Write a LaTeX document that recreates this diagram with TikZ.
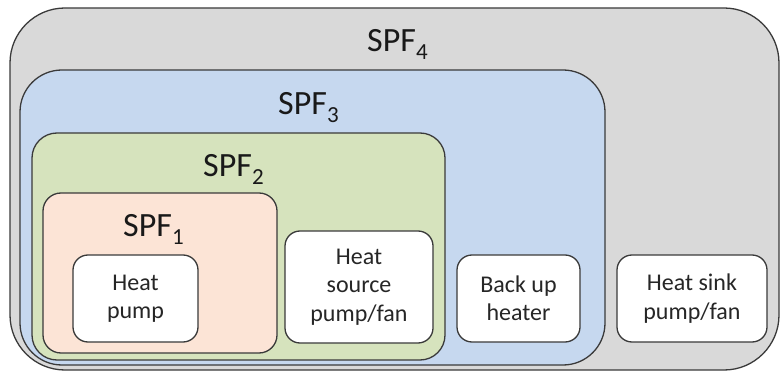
\documentclass[tikz,border=0pt]{standalone}
\usepackage{fontspec}
\setmainfont{Carlito}
\definecolor{grayfill}{HTML}{D9D9D9}
\definecolor{bluefill}{HTML}{C6D8EF}
\definecolor{greenfill}{HTML}{D6E3BD}
\definecolor{orangefill}{HTML}{FCE4D6}
\definecolor{edge}{HTML}{3A3A3A}
\tikzset{
  region/.style={draw=edge, line width=1.3pt, inner sep=0pt},
  unit/.style={draw=edge, line width=1.3pt, fill=white, rounded corners=15pt, inner sep=0pt,
    align=center, font=\fontsize{24}{28.5}\selectfont, text=black!85},
  spf/.style={anchor=base west, inner sep=0pt, font=\fontsize{34}{34}\selectfont, text=black!90},
}
\newcommand{\spfsub}[1]{SPF\raisebox{-8pt}{\fontsize{23}{23}\selectfont #1}}
\begin{document}
\begin{tikzpicture}[x=1pt,y=1pt]
\useasboundingbox (0,0) rectangle (781,372);
\node[region, fill=grayfill, rounded corners=55pt, minimum width=769pt, minimum height=362pt] (r4) at (394.5,183) {};
\node[region, fill=bluefill, rounded corners=42pt, minimum width=585pt, minimum height=295pt] (r3) at (312.5,154.5) {};
\node[region, fill=greenfill, rounded corners=25pt, minimum width=413pt, minimum height=227pt] (r2) at (238.5,125.5) {};
\node[region, fill=orangefill, rounded corners=18pt, minimum width=234pt, minimum height=160pt] (r1) at (160,99) {};
\node[spf] (l4) at (367,320) {\spfsub{4}};
\node[spf] (l3) at (278,257) {\spfsub{3}};
\node[spf] (l2) at (203,195) {\spfsub{2}};
\node[spf] (l1) at (123,135) {\spfsub{1}};
\node[unit, minimum width=125pt, minimum height=87pt] (hp) at (135.5,73.5) {Heat\\pump};
\node[unit, minimum width=148pt, minimum height=112pt] (hs) at (359,85) {Heat\\source\\pump/fan};
\node[unit, minimum width=123pt, minimum height=87pt] (bu) at (518.5,73.5) {Back up\\heater};
\node[unit, minimum width=150pt, minimum height=87pt] (sink) at (692,73.5) {Heat sink\\pump/fan};
\end{tikzpicture}
\end{document}
